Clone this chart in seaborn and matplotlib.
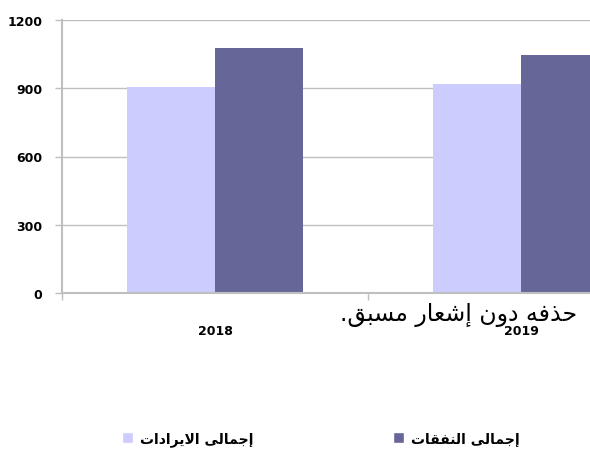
import matplotlib
matplotlib.use("Agg")
import matplotlib.pyplot as plt
import pandas as pd
import seaborn as sns
from matplotlib.patches import Patch


# data
years = ["2018", "2019"]
revenues = [906, 919]      # light bars
expenses = [1077, 1047]    # dark bars
series_names = ["إجمالى الايرادات", "إجمالى النفقات"]
yticks = [0, 300, 600, 900, 1200]
overlay_text = "حذفه دون إشعار مسبق."

light = "#ccccff"
dark = "#666699"
grid_col = "#bfbfbf"


# matplotlib does no Arabic shaping, so map letters to presentation forms
# (isolated, final, initial, medial) and reverse into visual order
FORMS = {
    "ا": ("\ufe8d", "\ufe8e", None, None),
    "إ": ("\ufe87", "\ufe88", None, None),
    "د": ("\ufea9", "\ufeaa", None, None),
    "ذ": ("\ufeab", "\ufeac", None, None),
    "ر": ("\ufead", "\ufeae", None, None),
    "و": ("\ufeed", "\ufeee", None, None),
    "ى": ("\ufeef", "\ufef0", "\ufbe8", "\ufbe9"),
    "ب": ("\ufe8f", "\ufe90", "\ufe91", "\ufe92"),
    "ت": ("\ufe95", "\ufe96", "\ufe97", "\ufe98"),
    "ج": ("\ufe9d", "\ufe9e", "\ufe9f", "\ufea0"),
    "ح": ("\ufea1", "\ufea2", "\ufea3", "\ufea4"),
    "س": ("\ufeb1", "\ufeb2", "\ufeb3", "\ufeb4"),
    "ش": ("\ufeb5", "\ufeb6", "\ufeb7", "\ufeb8"),
    "ع": ("\ufec9", "\ufeca", "\ufecb", "\ufecc"),
    "ف": ("\ufed1", "\ufed2", "\ufed3", "\ufed4"),
    "ق": ("\ufed5", "\ufed6", "\ufed7", "\ufed8"),
    "ل": ("\ufedd", "\ufede", "\ufedf", "\ufee0"),
    "م": ("\ufee1", "\ufee2", "\ufee3", "\ufee4"),
    "ن": ("\ufee5", "\ufee6", "\ufee7", "\ufee8"),
    "ه": ("\ufee9", "\ufeea", "\ufeeb", "\ufeec"),
    "ي": ("\ufef1", "\ufef2", "\ufef3", "\ufef4"),
}
LAM_ALEF = {"ا": ("\ufefb", "\ufefc"), "إ": ("\ufef9", "\ufefa")}


def dual(c):
    return c in FORMS and FORMS[c][2] is not None


def shape(s):
    # merge lam + alef first
    units = []
    i = 0
    while i < len(s):
        if s[i] == "ل" and i + 1 < len(s) and s[i + 1] in LAM_ALEF:
            units.append(("LA", s[i + 1]))
            i += 2
        else:
            units.append(("C", s[i]))
            i += 1
    out = []
    for k, (kind, c) in enumerate(units):
        prev = units[k - 1] if k > 0 else None
        nxt = units[k + 1] if k + 1 < len(units) else None
        joins_prev = prev is not None and prev[0] == "C" and dual(prev[1])
        if kind == "LA":
            out.append(LAM_ALEF[c][1 if joins_prev else 0])
            continue
        if c not in FORMS:
            out.append(c)
            continue
        joins_next = dual(c) and nxt is not None and (nxt[0] == "LA" or nxt[1] in FORMS)
        idx = {(False, False): 0, (True, False): 1, (False, True): 2, (True, True): 3}[(joins_prev, joins_next)]
        out.append(FORMS[c][idx])
    return "".join(out)[::-1]


df = pd.DataFrame({
    "year": years * 2,
    "value": revenues + expenses,
    "series": [series_names[0]] * 2 + [series_names[1]] * 2,
})

sns.set_style("white")
plt.rcParams["font.family"] = ["DejaVu Sans"]
plt.rcParams["text.color"] = "black"
plt.rcParams["xtick.labelcolor"] = "black"
plt.rcParams["ytick.labelcolor"] = "black"

fig = plt.figure(figsize=(5.9, 4.56), dpi=100)
# the plot area runs past the right edge of the picture, as in the reference
ax = fig.add_axes([62 / 590, 1 - 294 / 456, 612 / 590, 273 / 456])

sns.barplot(data=df, x="year", y="value", hue="series",
            palette=[light, dark], width=0.575, gap=0, saturation=1,
            legend=False, ax=ax, linewidth=0)

ax.set_xlim(-0.5, 1.5)
ax.set_ylim(0, 1200)
ax.set_yticks(yticks)
ax.set_yticklabels([str(t) for t in yticks], fontsize=9, fontweight="bold", color="black")
ax.yaxis.grid(True, color=grid_col, linewidth=1)
ax.set_axisbelow(True)

# category ticks sit on the boundaries, labels in the middle
ax.set_xticks([-0.5, 0.5, 1.5])
ax.set_xticklabels(["", "", ""])
ax.set_xticks([0, 1], minor=True)
ax.set_xticklabels(years, minor=True, fontsize=9, fontweight="bold", color="black")
ax.tick_params(axis="x", which="minor", length=0, pad=22)
ax.tick_params(axis="x", which="major", length=5, color=grid_col, width=1, direction="out", bottom=True)
ax.tick_params(axis="y", length=5, color=grid_col, width=1, pad=9, left=True, direction="out")
ax.set_xlabel("")
ax.set_ylabel("")

for side in ["top", "right"]:
    ax.spines[side].set_visible(False)
for side in ["left", "bottom"]:
    ax.spines[side].set_color(grid_col)
    ax.spines[side].set_linewidth(1.5)

# stray text that sits over the chart in the reference
fig.text(577 / 590, 1 - 315 / 456, shape(overlay_text), fontsize=17,
         ha="right", va="center", color="black")

handles = [Patch(facecolor=light), Patch(facecolor=dark)]
fig.legend(handles, [shape(n) for n in series_names], loc="center",
           bbox_to_anchor=(321 / 590, 1 - 440 / 456), ncol=2, frameon=False,
           prop={"weight": "bold", "size": 10}, handlelength=0.8, handleheight=0.8,
           handletextpad=0.5, columnspacing=10)

fig.savefig("out.png", dpi=100)
